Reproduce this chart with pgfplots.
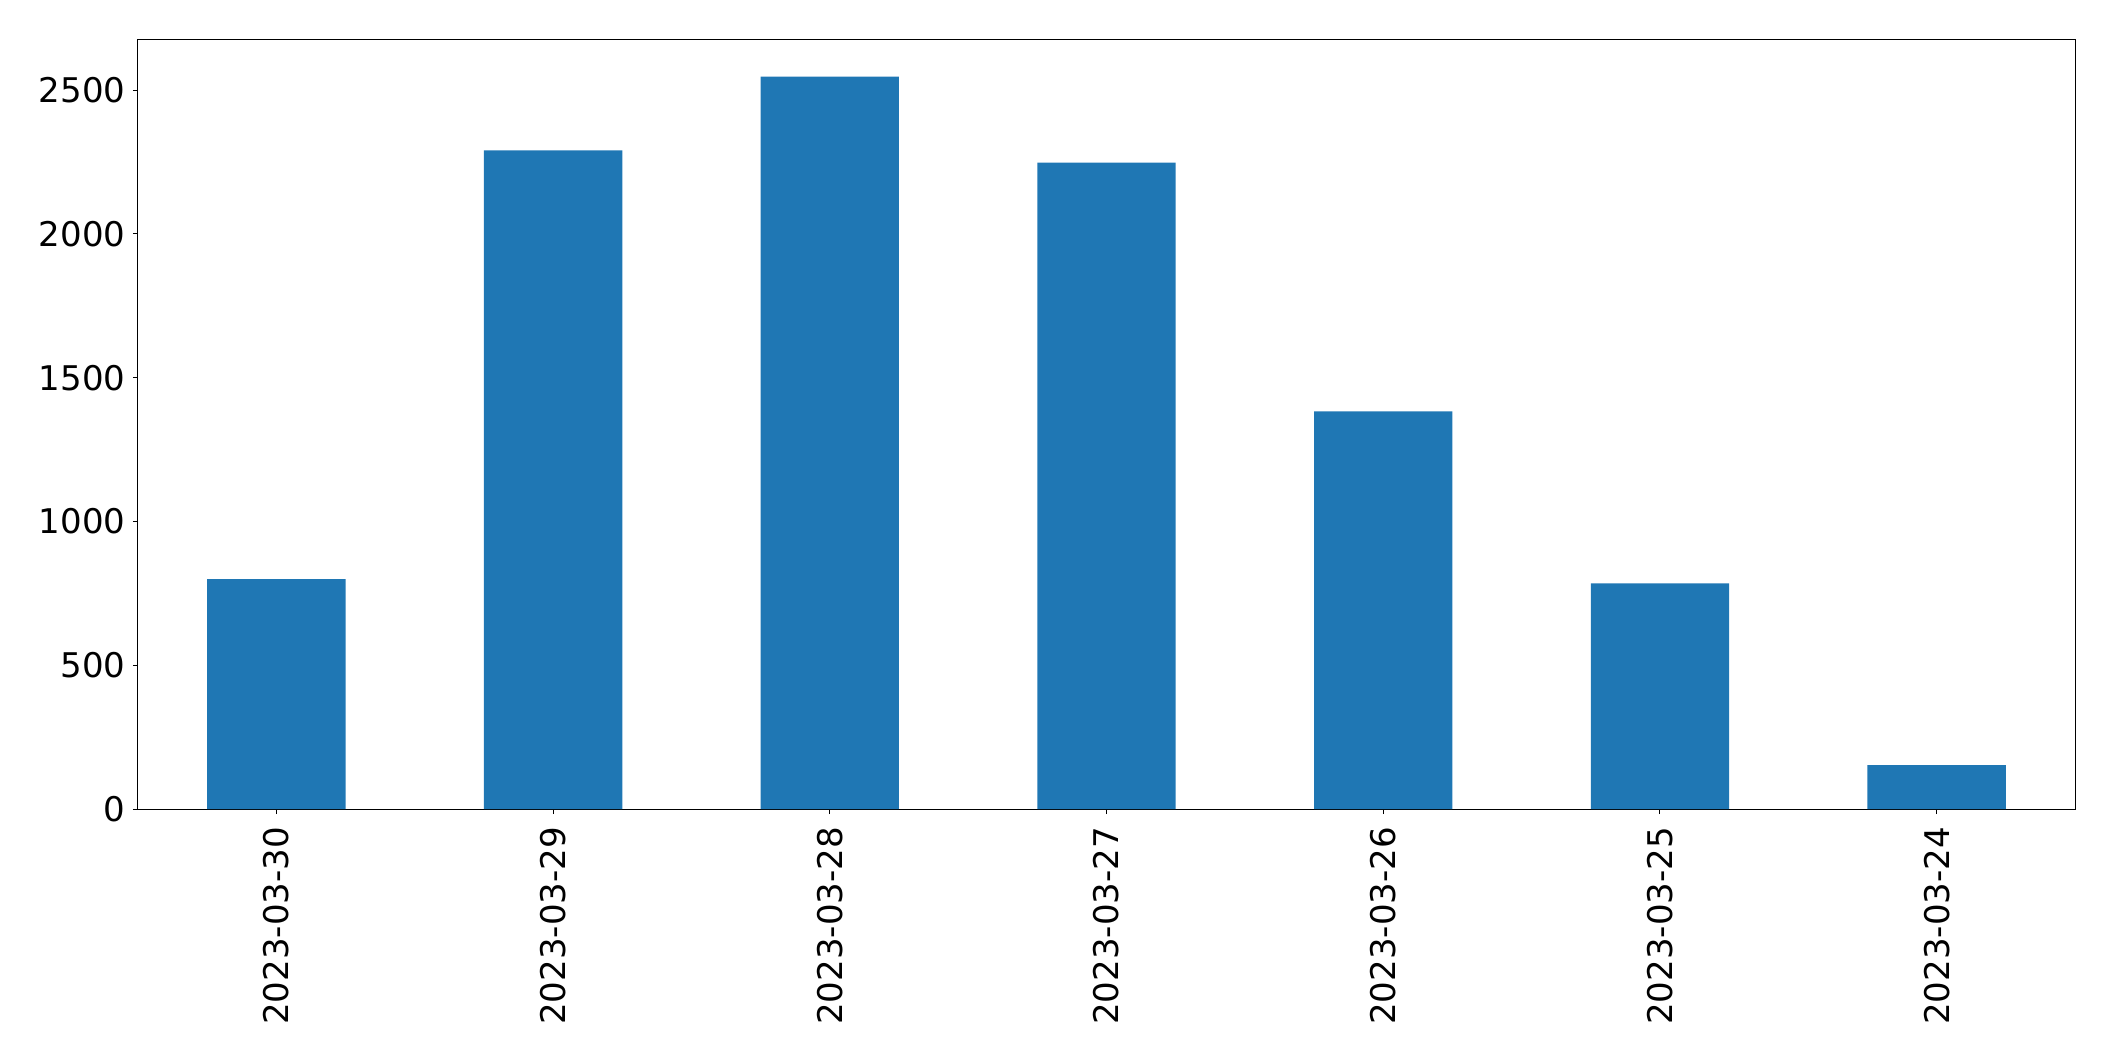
\documentclass[border=0pt]{standalone}
\usepackage{fontspec}
\setmainfont{DejaVu Sans}
\usepackage{pgfplots}
\pgfplotsset{compat=1.18}
\definecolor{mplblue}{HTML}{1F77B4}
\begin{document}
\begin{tikzpicture}
\begin{axis}[
  scale only axis,
  width=968.5pt, height=384.5pt,
  xmin=-0.5, xmax=6.5,
  ymin=0, ymax=2674,
  xtick={0,1,2,3,4,5,6},
  xticklabels={2023-03-30,2023-03-29,2023-03-28,2023-03-27,2023-03-26,2023-03-25,2023-03-24},
  ytick={0,500,1000,1500,2000,2500},
  tick align=outside,
  xtick pos=bottom, ytick pos=left,
  major tick length=2.5pt,
  tick style={black, line width=0.5pt},
  axis line style={black, line width=0.5pt},
  /pgf/number format/assume math mode=true,
  /pgf/number format/1000 sep={},
  tick label style={font=\fontsize{17pt}{20pt}\selectfont},
  xticklabel style={rotate=90, anchor=east, xshift=-3pt},
  yticklabel style={xshift=-0.3pt},
]
\addplot[ybar, bar width=0.5, fill=mplblue, draw=none, bar shift=0pt]
coordinates {(0,799) (1,2290) (2,2547) (3,2248) (4,1383) (5,785) (6,153)};
\end{axis}
\path[use as bounding box] (current axis.south west) ++(-69pt,-126pt) rectangle ([xshift=20pt,yshift=20pt]current axis.north east);
\end{tikzpicture}
\end{document}
